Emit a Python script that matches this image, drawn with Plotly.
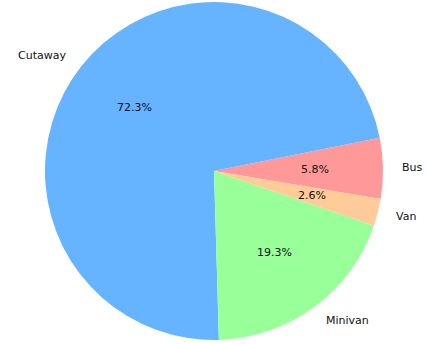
import math
import plotly.graph_objects as go

# Data
labels = ["Bus", "Cutaway", "Minivan", "Van"]
values = [5.8, 72.3, 19.3, 2.6]
colors = ["#ff9999", "#66b3ff", "#99ff99", "#ffcc99"]

W, H = 427, 344
start_angle = -9.5  # math degrees where the first slice begins (counterclockwise)

# pie domain in pixels
x0, x1 = 42, 386
y0, y1 = 2, 340
cx = (x0 + x1) / 2
cy = (y0 + y1) / 2
r = min(x1 - x0, y1 - y0) / 2

total = sum(values)
first_span = 360 * values[0] / total

fig = go.Figure()
fig.add_trace(go.Pie(
    labels=labels,
    values=values,
    sort=False,
    direction="counterclockwise",
    rotation=90 - (start_angle + first_span),
    marker=dict(colors=colors, line=dict(width=0)),
    textinfo="none",
    hoverinfo="label+percent",
    showlegend=False,
    domain=dict(x=[x0 / W, x1 / W], y=[1 - y1 / H, 1 - y0 / H]),
))

ang = start_angle
font = dict(family="DejaVu Sans", size=11, color="#111111")
for lab, v in zip(labels, values):
    span = 360 * v / total
    mid = math.radians(ang + span / 2)
    ang += span
    # outer label at 1.1 r
    lx = cx + 1.1 * r * math.cos(mid)
    ly = cy - 1.1 * r * math.sin(mid)
    fig.add_annotation(
        x=lx / W, y=1 - ly / H, xref="paper", yref="paper",
        text=lab, showarrow=False, font=font,
        xanchor="left" if math.cos(mid) > 0 else "right", yanchor="middle",
    )
    # percentage at 0.6 r
    px = cx + 0.6 * r * math.cos(mid)
    py = cy - 0.6 * r * math.sin(mid)
    fig.add_annotation(
        x=px / W, y=1 - py / H, xref="paper", yref="paper",
        text=f"{100 * v / total:.1f}%", showarrow=False, font=font,
        xanchor="center", yanchor="middle",
    )

fig.update_layout(
    width=W, height=H,
    margin=dict(l=0, r=0, t=0, b=0),
    paper_bgcolor="white",
    plot_bgcolor="white",
)

fig.write_html("out.html", config={"displayModeBar": False},
               post_script="document.body.style.margin='0';")
